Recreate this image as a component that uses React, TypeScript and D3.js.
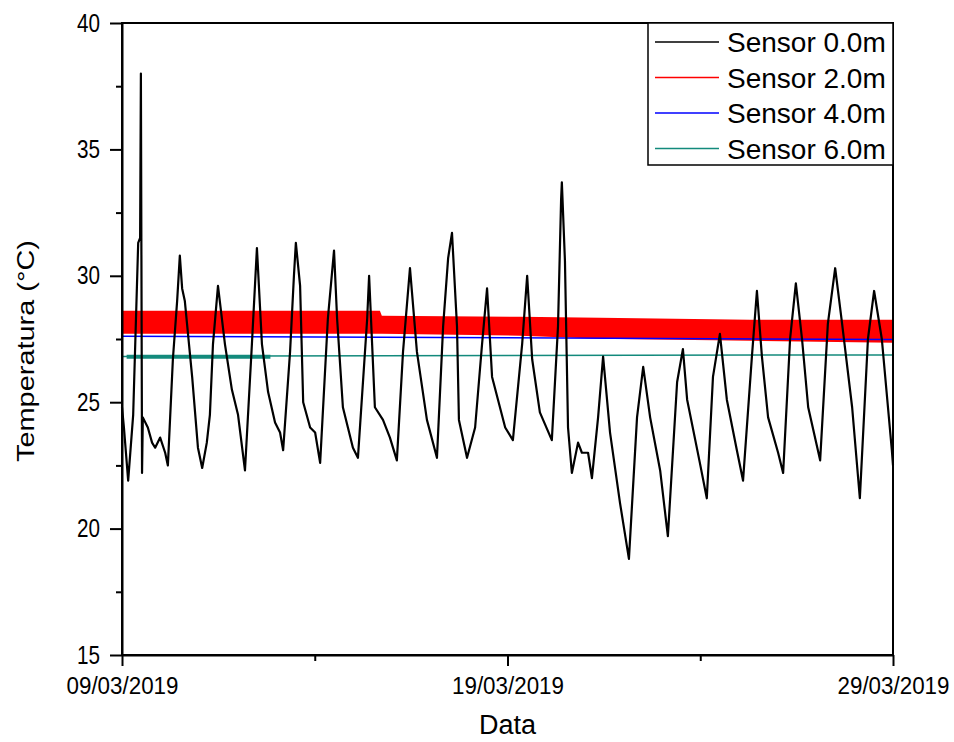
import React, { useEffect, useRef } from 'react';
import * as d3 from 'd3';

// days since 09/03/2019 00:00 and temperature (°C) of the surface sensor
const blackDays = [
  0.0, 0.05, 0.16, 0.29, 0.42, 0.47, 0.49, 0.52, 0.54, 0.67, 0.78, 0.86, 0.99, 1.12, 1.19,
  1.32, 1.43, 1.5, 1.56, 1.63, 1.82, 1.97, 2.08, 2.2, 2.28, 2.36, 2.49, 2.67, 2.85, 3.01,
  3.19, 3.37, 3.5, 3.63, 3.79, 3.97, 4.1, 4.18, 4.36, 4.46, 4.51, 4.62, 4.7, 4.88, 5.01,
  5.14, 5.34, 5.5, 5.58, 5.73, 5.86, 5.99, 6.12, 6.36, 6.41, 6.56, 6.77, 6.95, 7.13, 7.29,
  7.47, 7.65, 7.91, 8.17, 8.33, 8.46, 8.56, 8.69, 8.74, 8.95, 9.16, 9.34, 9.47, 9.6, 9.94,
  10.14, 10.38, 10.51, 10.64, 10.84, 11.15, 11.31, 11.39, 11.41, 11.49, 11.57, 11.67, 11.83,
  11.93, 12.09, 12.19, 12.35, 12.48, 12.66, 12.92, 13.15, 13.36, 13.52, 13.7, 13.96, 14.16,
  14.4, 14.55, 14.66, 14.99, 15.17, 15.33, 15.51, 15.69, 15.95, 16.11, 16.34, 16.47, 16.6,
  16.76, 17.02, 17.15, 17.33, 17.48, 17.64, 17.8, 18.11, 18.31, 18.5, 18.68, 18.94, 19.14,
  19.35, 19.51, 19.71, 19.97, 20.0,
];
const blackTemp = [
  24.8, 24.0, 21.9, 24.5, 31.3, 31.5, 38.0, 22.2, 24.4, 24.0, 23.4, 23.2, 23.6, 23.0, 22.5,
  26.7, 29.0, 30.8, 29.5, 29.0, 26.0, 23.2, 22.4, 23.4, 24.5, 27.3, 29.6, 27.3, 25.5, 24.5,
  22.3, 27.3, 31.1, 27.3, 25.4, 24.2, 23.8, 23.1, 27.0, 30.0, 31.3, 29.6, 25.0, 24.0, 23.8,
  22.6, 28.3, 31.0, 28.3, 24.8, 24.0, 23.2, 22.8, 28.3, 30.0, 24.8, 24.3, 23.6, 22.7, 27.0,
  30.3, 27.0, 24.3, 22.8, 28.0, 30.7, 31.7, 28.0, 24.3, 22.8, 24.0, 27.3, 29.5, 26.0, 24.0,
  23.5, 27.3, 30.0, 26.7, 24.6, 23.5, 28.0, 33.0, 33.7, 30.6, 24.0, 22.2, 23.4,
  23.0, 23.0, 22.0, 24.4, 26.8, 23.8, 21.0, 18.8, 24.4, 26.4, 24.4, 22.3, 19.7,
  25.8, 27.1, 25.1, 22.6, 21.2, 26.0, 27.7, 25.1, 23.1, 21.9, 26.8, 29.4, 26.8,
  24.4, 23.0, 22.2, 27.5, 29.7, 27.5, 24.8, 22.7, 28.1, 30.3, 28.1, 24.8, 21.2,
  27.5, 29.4, 27.5, 23.1, 22.5,
];

// 2.0 m sensor: noisy band, lower / upper envelope
const redDays = [0, 6.69, 6.74, 10.32, 12.4, 16.29, 20];
const redLow = [27.71, 27.71, 27.71, 27.63, 27.51, 27.43, 27.35];
const redHigh = [28.62, 28.62, 28.42, 28.38, 28.34, 28.26, 28.26];

const blueDays = [0, 10, 20];
const blueTemp = [27.61, 27.55, 27.48];

const tealDays = [0, 10, 20];
const tealTemp = [26.81, 26.85, 26.87];
// short noisy stretch at the start of the 6.0 m series
const tealNoiseDays = [0.12, 3.85];
const tealNoiseTemp = [26.8, 26.8];

const legendLabels = ['Sensor 0.0m', 'Sensor 2.0m', 'Sensor 4.0m', 'Sensor 6.0m'];
const legendColors = ['#000000', '#ff0000', '#0000ff', '#138a7c'];

const yMajorTicks = [15, 20, 25, 30, 35, 40];
const yMinorTicks = [17.5, 22.5, 27.5, 32.5, 37.5];
const xMajorDays = [0, 10, 20];
const xMinorDays = [5, 15];

const start = new Date(2019, 2, 9);
const dayToDate = (d: number) => new Date(start.getTime() + d * 86400000);

const App = () => {
  const svgRef = useRef<SVGSVGElement>(null);

  useEffect(() => {
    const width = 954;
    const height = 742;
    const margin = { top: 23, right: 61, bottom: 87, left: 122 };
    const font = "'Liberation Sans', Arial, sans-serif";

    d3.select(svgRef.current).selectAll('*').remove();
    const svg = d3.select(svgRef.current).attr('width', width).attr('height', height);

    const x = d3
      .scaleTime()
      .domain([dayToDate(0), dayToDate(20)])
      .range([margin.left, width - margin.right]);
    const y = d3
      .scaleLinear()
      .domain([15, 40])
      .range([height - margin.bottom, margin.top]);

    const plot = svg.append('g');

    // red band
    const redData = redDays.map((d, i) => ({ d, lo: redLow[i], hi: redHigh[i] }));
    plot
      .append('path')
      .datum(redData)
      .attr('fill', '#ff0000')
      .attr(
        'd',
        d3
          .area<any>()
          .x((p) => x(dayToDate(p.d)))
          .y0((p) => y(p.lo))
          .y1((p) => y(p.hi))
      );

    const line = d3
      .line<[number, number]>()
      .x((p) => x(dayToDate(p[0])))
      .y((p) => y(p[1]));

    plot
      .append('path')
      .datum(blueDays.map((d, i) => [d, blueTemp[i]] as [number, number]))
      .attr('fill', 'none')
      .attr('stroke', '#0000ff')
      .attr('stroke-width', 1.5)
      .attr('d', line);

    plot
      .append('path')
      .datum(tealDays.map((d, i) => [d, tealTemp[i]] as [number, number]))
      .attr('fill', 'none')
      .attr('stroke', '#138a7c')
      .attr('stroke-width', 1.5)
      .attr('d', line);

    plot
      .append('path')
      .datum(tealNoiseDays.map((d, i) => [d, tealNoiseTemp[i]] as [number, number]))
      .attr('fill', 'none')
      .attr('stroke', '#138a7c')
      .attr('stroke-width', 4)
      .attr('d', line);

    plot
      .append('path')
      .datum(blackDays.map((d, i) => [d, blackTemp[i]] as [number, number]))
      .attr('fill', 'none')
      .attr('stroke', '#000')
      .attr('stroke-width', 2.2)
      .attr('stroke-linejoin', 'round')
      .attr('d', line);

    // frame
    svg
      .append('rect')
      .attr('x', margin.left)
      .attr('y', margin.top)
      .attr('width', width - margin.left - margin.right)
      .attr('height', height - margin.top - margin.bottom)
      .attr('fill', 'none')
      .attr('stroke', '#000')
      .attr('stroke-width', 2);

    // Y axis
    const yAxis = svg
      .append('g')
      .attr('transform', `translate(${margin.left},0)`)
      .call(d3.axisLeft(y).tickValues(yMajorTicks).tickSize(12).tickSizeOuter(0).tickPadding(10));
    yAxis.select('.domain').attr('stroke-width', 2);
    yAxis.selectAll('.tick line').attr('stroke-width', 2);
    yAxis
      .selectAll('text')
      .attr('font-family', font)
      .attr('font-size', 25)
      .attr('fill', '#000')
      .attr('textLength', 23)
      .attr('lengthAdjust', 'spacingAndGlyphs');
    svg
      .append('g')
      .attr('transform', `translate(${margin.left},0)`)
      .call(d3.axisLeft(y).tickValues(yMinorTicks).tickSize(6).tickSizeOuter(0).tickFormat(() => ''))
      .call((g) => g.select('.domain').remove())
      .selectAll('.tick line')
      .attr('stroke-width', 2);

    // X axis
    const xAxis = svg
      .append('g')
      .attr('transform', `translate(0,${height - margin.bottom})`)
      .call(
        d3
          .axisBottom(x)
          .tickValues(xMajorDays.map(dayToDate))
          .tickSize(11)
          .tickSizeOuter(0)
          .tickPadding(12)
          .tickFormat((d) => d3.timeFormat('%d/%m/%Y')(d as Date))
      );
    xAxis.select('.domain').attr('stroke-width', 2);
    xAxis.selectAll('.tick line').attr('stroke-width', 2);
    xAxis
      .selectAll('text')
      .attr('font-family', font)
      .attr('font-size', 23)
      .attr('fill', '#000')
      .attr('textLength', 112)
      .attr('lengthAdjust', 'spacingAndGlyphs');
    svg
      .append('g')
      .attr('transform', `translate(0,${height - margin.bottom})`)
      .call(
        d3
          .axisBottom(x)
          .tickValues(xMinorDays.map(dayToDate))
          .tickSize(6)
          .tickSizeOuter(0)
          .tickFormat(() => '')
      )
      .call((g) => g.select('.domain').remove())
      .selectAll('.tick line')
      .attr('stroke-width', 2);

    // axis titles
    svg
      .append('text')
      .attr('x', (margin.left + width - margin.right) / 2)
      .attr('y', 734)
      .attr('text-anchor', 'middle')
      .attr('font-family', font)
      .attr('font-size', 27)
      .text('Data');

    svg
      .append('text')
      .attr('transform', 'translate(34,351) rotate(-90)')
      .attr('text-anchor', 'middle')
      .attr('font-family', font)
      .attr('font-size', 24)
      .attr('textLength', 222)
      .attr('lengthAdjust', 'spacingAndGlyphs')
      .text('Temperatura (°C)');

    // legend
    const legend = svg.append('g').attr('transform', 'translate(648,23)');
    legend
      .append('rect')
      .attr('width', 245)
      .attr('height', 142)
      .attr('fill', '#fff')
      .attr('stroke', '#000')
      .attr('stroke-width', 1.5);
    legendLabels.forEach((label, i) => {
      const cy = 19 + i * 35.5;
      legend
        .append('line')
        .attr('x1', 7)
        .attr('x2', 71)
        .attr('y1', cy)
        .attr('y2', cy)
        .attr('stroke', legendColors[i])
        .attr('stroke-width', 1.5);
      legend
        .append('text')
        .attr('x', 79)
        .attr('y', cy + 10)
        .attr('font-family', font)
        .attr('font-size', 28)
        .text(label);
    });
  }, []);

  return <svg ref={svgRef} style={{ position: 'absolute', left: 0, top: 0, background: '#fff' }}></svg>;
};

export default App;
